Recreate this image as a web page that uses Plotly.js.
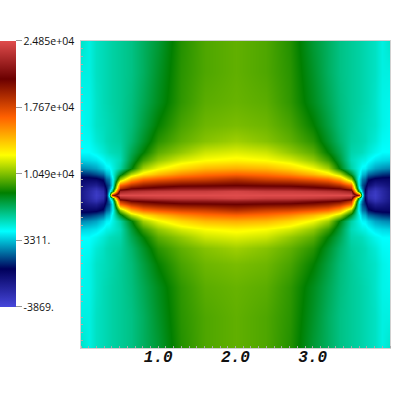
<!DOCTYPE html>
<html><head><meta charset="utf-8">
<script src="https://cdn.plot.ly/plotly-3.0.1.min.js"></script>
<style>html,body{margin:0;padding:0;background:#fff}</style></head>
<body><div id="chart" style="width:410px;height:410px"></div>
<script>
// field values in hundreds
const xValues = [0,0.1,0.2,0.28,0.33,0.36,0.4,0.5,0.65,0.8,1,1.3,1.6,2,2.4,2.7,3,3.2,3.35,3.5,3.6,3.64,3.67,3.72,3.8,3.9,4];
const yValues = [-2,-1.6,-1.2,-0.9,-0.7,-0.55,-0.45,-0.35,-0.27,-0.2,-0.13,-0.09,-0.05,0,0.05,0.09,0.13,0.2,0.27,0.35,0.45,0.55,0.7,0.9,1.2,1.6,2];
const fieldRows = [
[52,48,53,55,56,57,58,60,63,69,76,90,97,100,97,90,76,69,63,60,58,57,56,55,53,48,52],
[48,48,53,55,56,57,58,60,63,69,78,91,97,100,97,91,78,69,63,60,58,57,56,55,53,48,48],
[46,47,52,55,56,57,58,60,64,71,80,92,99,101,99,92,80,71,64,60,58,57,56,55,52,47,46],
[45,47,52,54,55,56,57,60,65,74,85,96,102,104,102,96,85,74,65,60,57,56,55,54,52,47,45],
[44,45,50,53,55,56,57,59,67,78,91,100,106,110,106,100,91,78,67,59,57,56,55,53,50,45,44],
[43,43,46,50,52,54,55,57,71,84,99,108,117,120,117,108,99,84,71,57,55,54,52,50,46,43,43],
[36,37,39,44,47,48,50,55,75,94,108,119,125,128,125,119,108,94,75,55,50,48,47,44,39,37,36],
[24,26,29,36,41,42,47,58,82,110,123,135,143,146,143,135,123,110,82,58,47,42,41,36,29,26,24],
[9,11,15,20,30,33,46,78,113,131,143,155,162,166,162,155,143,131,113,78,46,33,30,20,15,11,9],
[-2,-2,-1,5,18,22,39,108,146,163,170,177,180,187,180,177,170,163,146,108,39,22,18,5,-1,-2,-2],
[-7,-12,-15,-5,8,16,38,165,185,195,200,204,205,207,205,204,200,195,185,165,38,16,8,-5,-15,-12,-7],
[-10,-18,-24,-14,4,20,46,185,205,209,213,219,220,222,220,219,213,209,205,185,46,20,4,-14,-24,-18,-10],
[-12,-21,-30,-22,0,30,70,225,232,235,238,240,240,244,240,240,238,235,232,225,70,30,0,-22,-30,-21,-12],
[-12,-22,-32,-25,-5,50,190,248,248,248,248,248,248,248,248,248,248,248,248,248,190,50,-5,-25,-32,-22,-12],
[-12,-21,-30,-22,0,30,70,225,232,235,238,240,240,244,240,240,238,235,232,225,70,30,0,-22,-30,-21,-12],
[-10,-18,-24,-14,4,20,46,185,205,209,213,219,220,222,220,219,213,209,205,185,46,20,4,-14,-24,-18,-10],
[-7,-12,-15,-5,8,16,38,165,185,195,200,204,205,207,205,204,200,195,185,165,38,16,8,-5,-15,-12,-7],
[-2,-2,-1,5,18,22,39,108,146,163,170,177,180,187,180,177,170,163,146,108,39,22,18,5,-1,-2,-2],
[9,11,15,20,30,33,46,78,113,131,143,155,162,166,162,155,143,131,113,78,46,33,30,20,15,11,9],
[24,26,29,36,41,42,47,58,82,110,123,135,143,146,143,135,123,110,82,58,47,42,41,36,29,26,24],
[36,37,39,44,47,48,50,55,75,94,108,119,125,128,125,119,108,94,75,55,50,48,47,44,39,37,36],
[43,43,46,50,52,54,55,57,71,84,99,108,117,120,117,108,99,84,71,57,55,54,52,50,46,43,43],
[44,45,50,53,55,56,57,59,67,78,91,100,106,110,106,100,91,78,67,59,57,56,55,53,50,45,44],
[45,47,52,54,55,56,57,60,65,74,85,96,102,104,102,96,85,74,65,60,57,56,55,54,52,47,45],
[46,47,52,55,56,57,58,60,64,71,80,92,99,101,99,92,80,71,64,60,58,57,56,55,52,47,46],
[48,48,53,55,56,57,58,60,63,69,78,91,97,100,97,91,78,69,63,60,58,57,56,55,53,48,48],
[52,48,53,55,56,57,58,60,63,69,76,90,97,100,97,90,76,69,63,60,58,57,56,55,53,48,52]
];
const colorTickValues = [-38.69,33.11,104.9,176.7,248.5];
const colorTickLabels = ['-3869.','3311.','1.049e+04','1.767e+04','2.485e+04'];
const xTickValues = [1,2,3];
const xTickLabels = ['1.0','2.0','3.0'];
const colorStops = [
 [0,'rgb(71,71,219)'],[0.143,'rgb(0,0,91)'],[0.285,'rgb(0,255,255)'],[0.429,'rgb(0,127,0)'],
 [0.571,'rgb(255,255,0)'],[0.714,'rgb(255,96,0)'],[0.857,'rgb(107,0,0)'],[1,'rgb(224,76,76)']
];
Plotly.newPlot('chart',[{
  type:'heatmap', x:xValues, y:yValues, z:fieldRows, zsmooth:'best',
  zmin:colorTickValues[0], zmax:colorTickValues[4], colorscale:colorStops,
  colorbar:{
    xref:'container', x:0, xanchor:'left', xpad:0, ypad:0,
    yref:'paper', y:0.1336, yanchor:'bottom', lenmode:'pixels', len:266, thickness:16, thicknessmode:'pixels',
    outlinewidth:0, tickmode:'array', tickvals:colorTickValues, ticktext:colorTickLabels,
    ticks:'outside', ticklen:6, tickcolor:'#999', tickwidth:1,
    tickfont:{family:'Open Sans',size:10.5,color:'#111'}
  }
}],{
  width:410,height:410,
  margin:{l:81,r:20,t:41,b:62,pad:0},
  paper_bgcolor:'#fff',plot_bgcolor:'#fff',
  xaxis:{range:[0,4],tickmode:'array',tickvals:xTickValues,ticktext:xTickLabels,ticks:'',ticklabelstandoff:-6,
    tickfont:{family:'Liberation Mono',size:16,color:'#111',weight:'bold',style:'italic'},
    showgrid:false,zeroline:false,showline:true,mirror:true,linecolor:'#d0d0d0',linewidth:1,
    minor:{dtick:0.1,ticks:'inside',ticklen:2,tickcolor:'#aaa',showgrid:false}},
  yaxis:{range:[-2,2],showticklabels:false,ticks:'',showgrid:false,zeroline:false,
    showline:true,mirror:true,linecolor:'#d0d0d0',linewidth:1,
    minor:{dtick:0.1,ticks:'inside',ticklen:2,tickcolor:'#aaa',showgrid:false}}
},{displayModeBar:false});
</script></body></html>
